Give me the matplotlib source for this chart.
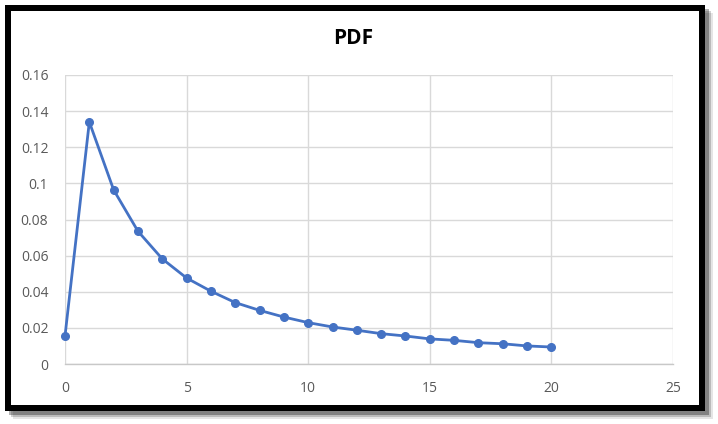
import matplotlib
matplotlib.use("Agg")
import matplotlib.pyplot as plt
from matplotlib.patches import Rectangle

# data
x_vals = list(range(0, 21))
pdf_vals = [0.0155, 0.134, 0.0964, 0.0735, 0.0582, 0.0476, 0.0403, 0.0340,
            0.0297, 0.0260, 0.0229, 0.0205, 0.0187, 0.0168, 0.0155, 0.0139,
            0.0131, 0.0118, 0.0112, 0.0100, 0.0094]
x_ticks = [0, 5, 10, 15, 20, 25]
y_ticks = [0, 0.02, 0.04, 0.06, 0.08, 0.10, 0.12, 0.14, 0.16]
y_labels = ["0", "0.02", "0.04", "0.06", "0.08", "0.1", "0.12", "0.14", "0.16"]

W, H = 718, 424
plt.rcParams["font.family"] = ["Open Sans", "DejaVu Sans"]
fig = plt.figure(figsize=(W / 100, H / 100), dpi=100)
fig.patch.set_facecolor("white")

def px(x0, y0, w, h):
    # pixel box (top-left origin) -> figure fraction
    return (x0 / W, 1 - (y0 + h) / H, w / W, h / H)

# soft shadow then black frame
for off, a in [(8, 0.10), (6, 0.18), (4, 0.30)]:
    bx = px(5 + off, 5 + off, 700, 406)
    fig.patches.append(Rectangle(bx[:2], bx[2], bx[3], transform=fig.transFigure,
                                 facecolor="black", edgecolor="none", alpha=a, zorder=0))
bx = px(5, 5, 700, 406)
fig.patches.append(Rectangle(bx[:2], bx[2], bx[3], transform=fig.transFigure,
                             facecolor="black", edgecolor="none", zorder=1))
bx = px(11, 11, 688, 394)
fig.patches.append(Rectangle(bx[:2], bx[2], bx[3], transform=fig.transFigure,
                             facecolor="white", edgecolor="none", zorder=2))

ax = fig.add_axes(px(65, 75, 608, 289))
ax.set_zorder(5)
ax.set_facecolor("none")
ax.plot(x_vals, pdf_vals, color="#4472C4", lw=2.0, marker="o", ms=5.5,
        clip_on=False, zorder=3)

ax.set_xlim(0, 25)
ax.set_ylim(0, 0.16)
ax.set_xticks(x_ticks)
ax.set_yticks(y_ticks)
ax.set_yticklabels(y_labels)
ax.grid(True, color="#d9d9d9", lw=1.0)
ax.set_axisbelow(True)
for s in ["top", "right", "left"]:
    ax.spines[s].set_visible(False)
ax.spines["bottom"].set_color("#c8c8c8")
ax.spines["bottom"].set_linewidth(1.0)
ax.tick_params(length=0, labelsize=10, colors="#595959", pad=12)

fig.text(353 / W, 1 - 38 / H, "PDF", ha="center", va="center",
         fontsize=15, fontweight="bold", color="black", zorder=6)

fig.savefig("out.png", dpi=100)
